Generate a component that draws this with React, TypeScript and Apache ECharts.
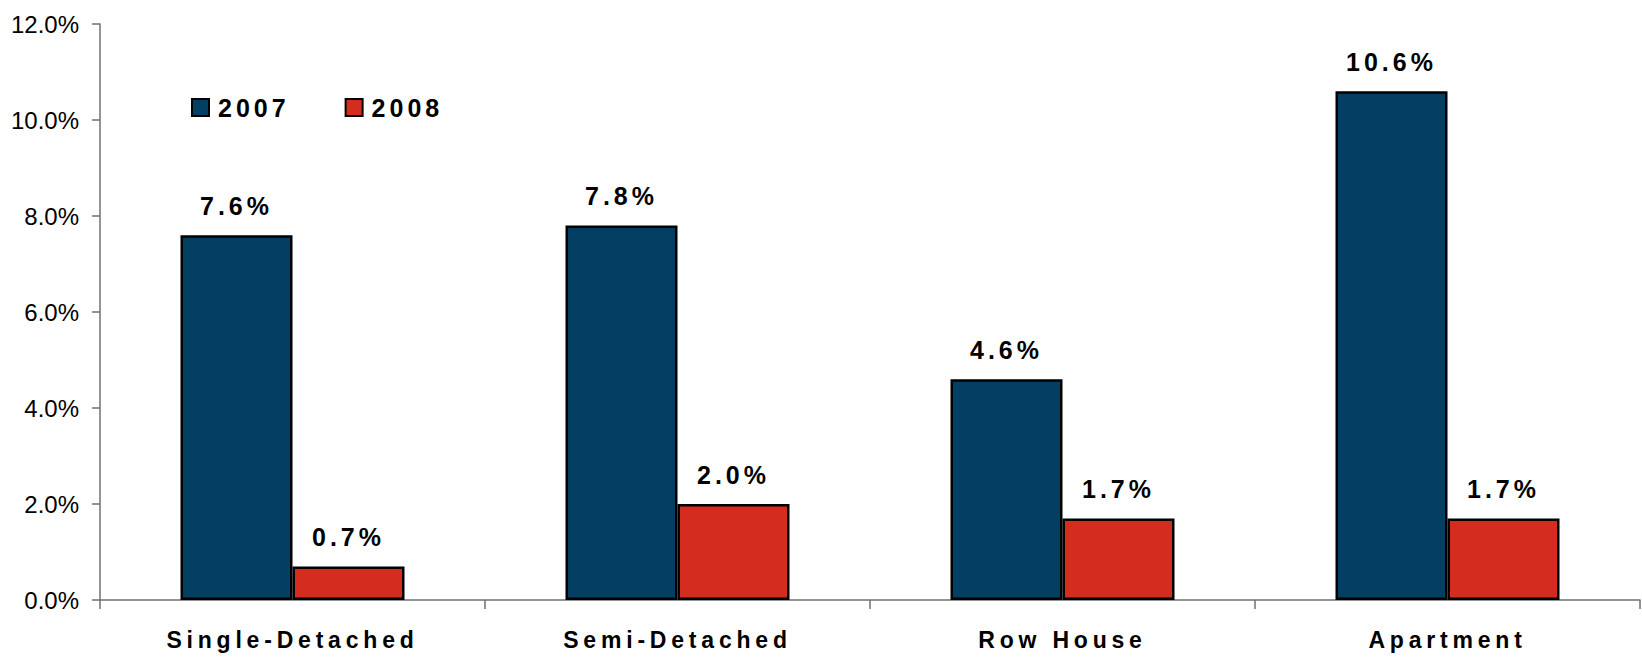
import React, { useEffect, useRef } from "react";
import * as echarts from "echarts";

const categories = ["Single-Detached", "Semi-Detached", "Row House", "Apartment"];
const series2007 = [7.6, 7.8, 4.6, 10.6];
const series2008 = [0.7, 2.0, 1.7, 1.7];
const seriesNames = ["2007", "2008"];
const yMin = 0;
const yMax = 12;
const yInterval = 2;

const BLUE = "#033F62";
const RED = "#D52C20";
const FONT = "'Liberation Sans', Arial, sans-serif";

export default function App() {
  const ref = useRef<HTMLDivElement>(null);

  useEffect(() => {
    if (!ref.current) return;
    const chart = echarts.init(ref.current, null, { renderer: "svg" });
    const valueLabel = {
      show: true,
      position: "top" as const,
      distance: 17,
      color: "#000",
      fontFamily: FONT,
      fontWeight: "bold" as const,
      fontSize: 25,
      formatter: (p: any) => Number(p.value).toFixed(1) + "%",
    };
    chart.setOption({
      animation: false,
      backgroundColor: "#fff",
      textStyle: { fontFamily: FONT },
      grid: { left: 100, right: 2, top: 24, bottom: 57, containLabel: false },
      legend: {
        data: seriesNames,
        left: 191,
        top: 95,
        padding: 0,
        icon: "rect",
        itemWidth: 17,
        itemHeight: 17,
        itemGap: 71,
        textStyle: {
          fontFamily: FONT,
          fontWeight: "bold",
          fontSize: 25,
          color: "#000",
          padding: [0, 0, 0, 4],
        },
      },
      xAxis: {
        type: "category",
        data: categories,
        axisLine: { show: true, lineStyle: { color: "#707070", width: 1.5 } },
        axisTick: { show: true, length: 9, lineStyle: { color: "#707070", width: 1.5 } },
        axisLabel: {
          margin: 28,
          color: "#000",
          fontFamily: FONT,
          fontWeight: "bold",
          fontSize: 23,
        },
      },
      yAxis: {
        type: "value",
        min: yMin,
        max: yMax,
        interval: yInterval,
        splitLine: { show: false },
        axisLine: { show: true, lineStyle: { color: "#707070", width: 1.5 } },
        axisTick: { show: true, length: 8, lineStyle: { color: "#707070", width: 1.5 } },
        axisLabel: {
          margin: 21,
          color: "#000",
          fontFamily: FONT,
          fontSize: 24,
          formatter: (v: number) => v.toFixed(1) + "%",
        },
      },
      series: [
        {
          name: seriesNames[0],
          type: "bar",
          data: series2007,
          barWidth: 112,
          barGap: "0%",
          itemStyle: { color: BLUE, borderColor: "#000", borderWidth: 2.5 },
          label: valueLabel,
        },
        {
          name: seriesNames[1],
          type: "bar",
          data: series2008,
          barWidth: 112,
          barGap: "0%",
          itemStyle: { color: RED, borderColor: "#000", borderWidth: 2.5 },
          label: valueLabel,
        },
      ],
    });
    return () => chart.dispose();
  }, []);

  return (
    <>
      <style>{`
        .chart-box svg text[style*="bold"] { letter-spacing: 4px; }
        .chart-box svg text[style*="bold"][style*="23px"] { letter-spacing: 4.8px; }
      `}</style>
      <div
        ref={ref}
        className="chart-box"
        style={{ position: "fixed", left: 0, top: 0, width: "1642px", height: "657px" }}
      />
    </>
  );
}
